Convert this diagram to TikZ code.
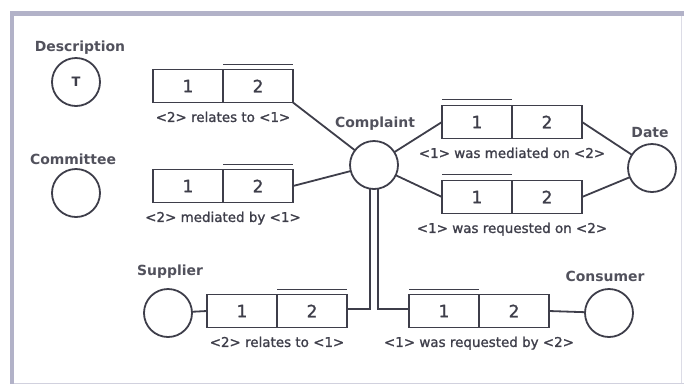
\documentclass[tikz,border=0pt]{standalone}
\usepackage{fontspec}
\setmainfont{DejaVu Sans}
\newfontfamily\midfont[FakeBold=1.3]{DejaVu Sans}
\usetikzlibrary{positioning}
\definecolor{ink}{HTML}{3E3E4A}
\definecolor{rim}{HTML}{B2B2C8}

\begin{document}
\begin{tikzpicture}[
        x=1bp, y=-1bp,
        every node/.style={text=ink},
        entity/.style={
            circle,
            draw=ink,
            line width=1.8bp,
            minimum size=48bp,
            inner sep=0pt,
            outer sep=0pt,
            font=\fontsize{13}{13}\selectfont\bfseries
        },
        cell/.style={
            rectangle,
            draw=ink,
            line width=1.8bp,
            minimum width=70bp,
            minimum height=33bp,
            inner sep=0pt,
            outer sep=0pt,
            font=\fontsize{17}{17}\midfont
        },
        typename/.style={
            font=\fontsize{14}{14}\selectfont\bfseries,
            text=ink!90,
            inner sep=0pt
        },
        reading/.style={
            font=\fontsize{13.5}{13.5}\midfont,
            inner sep=0pt
        },
        link/.style={
            draw=ink,
            line width=1.8bp
        }
    ]
    \useasboundingbox (0,0) rectangle (684,384);
    % Frame
    \fill[rim] (10,11) rectangle (684,16);
    \fill[rim] (10,11) rectangle (14,384);
    \draw[rim!60, line width=1bp] (14,383) -- (684,383);
    \draw[rim!45, line width=1bp] (681,16) -- (681,383);

    % Entity types
    \node[entity] (desc) at (76,82) {T};
    \node[typename] (desc_name) at (80,48) {Description};
    \node[entity] (comm) at (76,193) {};
    \node[typename] (comm_name) at (73,159) {Committee};
    \node[entity] (compl) at (374,165) {};
    \node[typename] (compl_name) at (375,124) {Complaint};
    \node[entity] (date) at (652,168) {};
    \node[typename] (date_name) at (650,133) {Date};
    \node[entity] (supp) at (168,313) {};
    \node[typename] (supp_name) at (170,272) {Supplier};
    \node[entity] (cons) at (609,313) {};
    \node[typename] (cons_name) at (605,276) {Consumer};

    % Fact types: two roles each
    \node[cell] (r1a) at (188,86) {1};
    \node[cell, right=0pt of r1a] (r1b) {2};
    \node[cell] (r2a) at (188,186) {1};
    \node[cell, right=0pt of r2a] (r2b) {2};
    \node[cell] (r3a) at (477,122) {1};
    \node[cell, right=0pt of r3a] (r3b) {2};
    \node[cell] (r4a) at (477,197) {1};
    \node[cell, right=0pt of r4a] (r4b) {2};
    \node[cell] (r5a) at (242,311) {1};
    \node[cell, right=0pt of r5a] (r5b) {2};
    \node[cell] (r6a) at (444,311) {1};
    \node[cell, right=0pt of r6a] (r6b) {2};

    % Uniqueness bars
    \draw[link] ([yshift=5bp]r1b.north west) -- ([yshift=5bp]r1b.north east);
    \draw[link] ([yshift=5bp]r2b.north west) -- ([yshift=5bp]r2b.north east);
    \draw[link] ([yshift=6bp]r3a.north west) -- ([yshift=6bp]r3a.north east);
    \draw[link] ([yshift=6bp]r4a.north west) -- ([yshift=6bp]r4a.north east);
    \draw[link] ([yshift=5bp]r5b.north west) -- ([yshift=5bp]r5b.north east);
    \draw[link] ([yshift=5bp]r6a.north west) -- ([yshift=5bp]r6a.north east);

    % Readings
    \node[reading, below=9bp of r1a.south east, anchor=north] (t1) {<2> relates to <1>};
    \node[reading, below=9bp of r2a.south east, anchor=north] (t2) {<2> mediated by <1>};
    \node[reading, below=9bp of r3a.south east, anchor=north] (t3) {<1> was mediated on <2>};
    \node[reading, below=9bp of r4a.south east, anchor=north] (t4) {<1> was requested on <2>};
    \node[reading, below=9bp of r5a.south east, anchor=north] (t5) {<2> relates to <1>};
    \node[reading, below=9bp of r6a.south east, anchor=north] (t6) {<1> was requested by <2>};

    % Role connections
    \draw[link] (r1b.south east) -- (compl);
    \draw[link] (r2b.east) -- (compl);
    \draw[link] (compl) -- (r3a.west);
    \draw[link] (compl) -- (r4a.west);
    \draw[link] (r3b.east) -- (date);
    \draw[link] (r4b.east) -- (date);
    \draw[link] (supp) -- (r5a.west);
    \draw[link] (r6b.east) -- (cons);
    \draw[link] ([xshift=-4bp]compl.south) |- ([yshift=2bp]r5b.east);
    \draw[link] ([xshift=4bp]compl.south) |- ([yshift=2bp]r6a.west);
\end{tikzpicture}
\end{document}
